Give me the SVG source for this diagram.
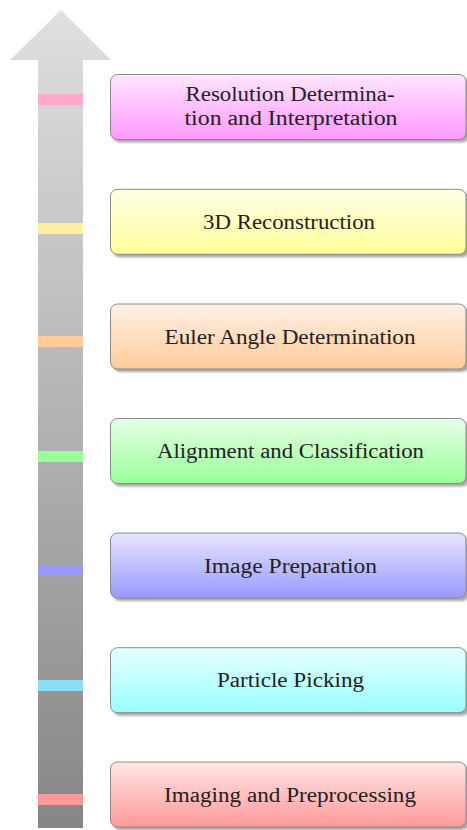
<svg xmlns="http://www.w3.org/2000/svg" width="467" height="830" viewBox="0 0 467 830">
<defs>
<linearGradient id="arrowGrad" gradientUnits="userSpaceOnUse" x1="0" y1="10" x2="0" y2="828">
<stop offset="0" stop-color="#e0e0e0"/>
<stop offset="1" stop-color="#868686"/>
</linearGradient>
<linearGradient id="gPink" x1="0" y1="0" x2="0" y2="1"><stop offset="0" stop-color="#ffe6ff"/><stop offset="1" stop-color="#ff99ff"/></linearGradient>
<linearGradient id="gYellow" x1="0" y1="0" x2="0" y2="1"><stop offset="0" stop-color="#ffffe6"/><stop offset="1" stop-color="#ffff99"/></linearGradient>
<linearGradient id="gOrange" x1="0" y1="0" x2="0" y2="1"><stop offset="0" stop-color="#fff0e6"/><stop offset="1" stop-color="#ffcc99"/></linearGradient>
<linearGradient id="gGreen" x1="0" y1="0" x2="0" y2="1"><stop offset="0" stop-color="#e6ffe6"/><stop offset="1" stop-color="#99ff99"/></linearGradient>
<linearGradient id="gBlue" x1="0" y1="0" x2="0" y2="1"><stop offset="0" stop-color="#e6e6ff"/><stop offset="1" stop-color="#9999ff"/></linearGradient>
<linearGradient id="gCyan" x1="0" y1="0" x2="0" y2="1"><stop offset="0" stop-color="#e6ffff"/><stop offset="1" stop-color="#99ffff"/></linearGradient>
<linearGradient id="gRed" x1="0" y1="0" x2="0" y2="1"><stop offset="0" stop-color="#ffe6e6"/><stop offset="1" stop-color="#ff9999"/></linearGradient>
<filter id="soft" x="-5%" y="-20%" width="110%" height="140%"><feGaussianBlur stdDeviation="0.8"/></filter>
</defs>
<style>
.box{stroke:#8a8a8a;stroke-width:1}
.shadow{fill:#a8a8a8;filter:url(#soft)}
.lbl{font-family:'Liberation Serif','DejaVu Serif',serif;font-size:20px;fill:#222;text-anchor:middle}
.mark{stroke:none}
</style>
<g id="arrow">
<path d="M38,828 L38,60 L10,60 L61,10 L111,60 L83,60 L83,828 Z" fill="url(#arrowGrad)"/>
<rect class="mark" x="38" y="94" width="45" height="11" fill="#ffaacc"/>
<rect class="mark" x="38" y="223" width="45" height="11" fill="#fff0a0"/>
<rect class="mark" x="38" y="336" width="45" height="11" fill="#ffcc99"/>
<rect class="mark" x="38" y="451" width="45" height="11" fill="#99ff99"/>
<rect class="mark" x="38" y="565" width="45" height="11" fill="#9999ff"/>
<rect class="mark" x="38" y="680" width="45" height="11" fill="#8fdcf5"/>
<rect class="mark" x="38" y="794" width="45" height="11" fill="#ff9999"/>
</g>
<g id="connectors"></g>
<g id="n1">
<rect class="shadow" x="113" y="77.5" width="356" height="65" rx="7"/>
<rect class="box" x="110.5" y="74.5" width="355.5" height="65" rx="7" fill="url(#gPink)"/>
<text class="lbl" x="290" y="101" textLength="209" lengthAdjust="spacingAndGlyphs">Resolution Determina-</text>
<text class="lbl" x="291" y="125" textLength="213" lengthAdjust="spacingAndGlyphs">tion and Interpretation</text>
</g>
<g id="n2">
<rect class="shadow" x="113" y="192.3" width="356" height="65" rx="7"/>
<rect class="box" x="110.5" y="189.3" width="355.5" height="65" rx="7" fill="url(#gYellow)"/>
<text class="lbl" x="289" y="229" textLength="172" lengthAdjust="spacingAndGlyphs">3D Reconstruction</text>
</g>
<g id="n3">
<rect class="shadow" x="113" y="307" width="356" height="65" rx="7"/>
<rect class="box" x="110.5" y="304" width="355.5" height="65" rx="7" fill="url(#gOrange)"/>
<text class="lbl" x="290" y="343.5" textLength="251" lengthAdjust="spacingAndGlyphs">Euler Angle Determination</text>
</g>
<g id="n4">
<rect class="shadow" x="113" y="421.5" width="356" height="65" rx="7"/>
<rect class="box" x="110.5" y="418.5" width="355.5" height="65" rx="7" fill="url(#gGreen)"/>
<text class="lbl" x="290.5" y="458" textLength="267" lengthAdjust="spacingAndGlyphs">Alignment and Classification</text>
</g>
<g id="n5">
<rect class="shadow" x="113" y="536" width="356" height="65" rx="7"/>
<rect class="box" x="110.5" y="533" width="355.5" height="65" rx="7" fill="url(#gBlue)"/>
<text class="lbl" x="290.5" y="572.5" textLength="173" lengthAdjust="spacingAndGlyphs">Image Preparation</text>
</g>
<g id="n6">
<rect class="shadow" x="113" y="650.7" width="356" height="65" rx="7"/>
<rect class="box" x="110.5" y="647.7" width="355.5" height="65" rx="7" fill="url(#gCyan)"/>
<text class="lbl" x="290.5" y="687" textLength="147" lengthAdjust="spacingAndGlyphs">Particle Picking</text>
</g>
<g id="n7">
<rect class="shadow" x="113" y="765" width="356" height="65" rx="7"/>
<rect class="box" x="110.5" y="762" width="355.5" height="65" rx="7" fill="url(#gRed)"/>
<text class="lbl" x="290" y="801.5" textLength="252" lengthAdjust="spacingAndGlyphs">Imaging and Preprocessing</text>
</g>
</svg>
